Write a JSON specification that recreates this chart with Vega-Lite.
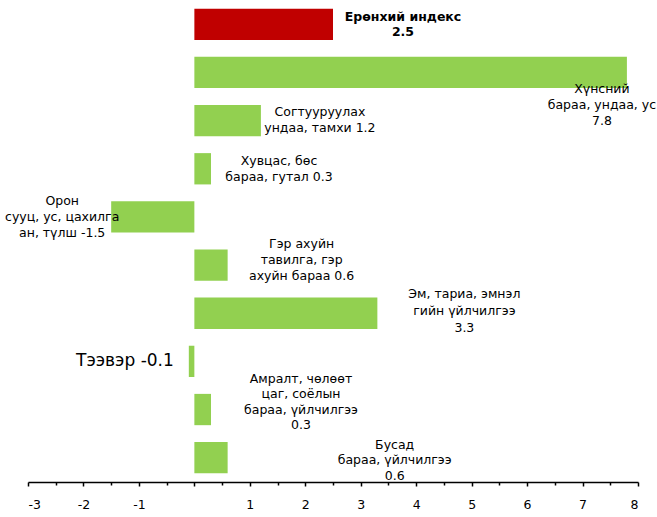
{
  "$schema": "https://vega.github.io/schema/vega-lite/v6.json",
  "width": 610,
  "height": 482,
  "autosize": {"type": "none"},
  "padding": {"left": 28, "top": 0, "right": 19, "bottom": 35},
  "background": "white",
  "config": {"view": {"stroke": null}, "font": "DejaVu Sans"},
  "data": {
    "values": [
      {"category": "Ерөнхий индекс", "value": 2.5, "type": "index", "label": "Ерөнхий индекс\n2.5"},
      {"category": "Хүнсний бараа, ундаа, ус", "value": 7.8, "type": "group", "label": "Хүнсний\nбараа, ундаа, ус\n7.8"},
      {"category": "Согтууруулах ундаа, тамхи", "value": 1.2, "type": "group", "label": "Согтууруулах\nундаа, тамхи 1.2"},
      {"category": "Хувцас, бөс бараа, гутал", "value": 0.3, "type": "group", "label": "Хувцас, бөс\nбараа, гутал 0.3"},
      {"category": "Орон сууц, ус, цахилгаан, түлш", "value": -1.5, "type": "group", "label": "Орон\nсууц, ус, цахилга\nан, түлш -1.5"},
      {"category": "Гэр ахуйн тавилга, гэр ахуйн бараа", "value": 0.6, "type": "group", "label": "Гэр ахуйн\nтавилга, гэр\nахуйн бараа 0.6"},
      {"category": "Эм, тариа, эмнэлгийн үйлчилгээ", "value": 3.3, "type": "group", "label": "Эм, тариа, эмнэл\nгийн үйлчилгээ\n3.3"},
      {"category": "Тээвэр", "value": -0.1, "type": "group", "label": "Тээвэр -0.1"},
      {"category": "Амралт, чөлөөт цаг, соёлын бараа, үйлчилгээ", "value": 0.3, "type": "group", "label": "Амралт, чөлөөт\nцаг, соёлын\nбараа, үйлчилгээ\n0.3"},
      {"category": "Бусад бараа, үйлчилгээ", "value": 0.6, "type": "group", "label": "Бусад\nбараа, үйлчилгээ\n0.6"}
    ]
  },
  "encoding": {
    "y": {"field": "category", "type": "nominal", "sort": null, "axis": null,
          "scale": {"paddingInner": 0.35, "paddingOuter": 0.18}},
    "x": {"field": "value", "type": "quantitative",
          "scale": {"domain": [-3, 8], "nice": false, "zero": false},
          "axis": {
            "title": null, "grid": false,
            "values": [-3,-2.5,-2,-1.5,-1,-0.5,0,0.5,1,1.5,2,2.5,3,3.5,4,4.5,5,5.5,6,6.5,7,7.5,8],
            "labelExpr": "(datum.value % 1 != 0 || datum.value == 0) ? '' : toString(datum.value)",
            "domainColor": "black", "domainWidth": 1.5,
            "tickColor": "black", "tickWidth": 1.5,
            "tickSize": {"expr": "datum.value % 1 == 0 ? 4 : 3"},
            "labelFontSize": 12.5, "labelColor": "black", "labelPadding": 12,
            "labelFont": "DejaVu Sans"
          }}
  },
  "layer": [
    {
      "mark": {"type": "bar"},
      "encoding": {
        "x2": {"datum": 0},
        "color": {"field": "type", "type": "nominal", "legend": null,
                  "scale": {"domain": ["index", "group"], "range": ["#C00000", "#92D050"]}}
      }
    },
    {
      "transform": [{"filter": "datum.category == 'Ерөнхий индекс'"}],
      "mark": {"type": "text", "align": "center", "baseline": "middle", "lineBreak": "\n", "font": "DejaVu Sans", "fontSize": 12.5, "fontWeight": "bold", "lineHeight": 14.5, "dx": 70, "dy": -7, "color": "black"},
      "encoding": {"text": {"field": "label"}}
    },
    {
      "transform": [{"filter": "datum.category == 'Хүнсний бараа, ундаа, ус'"}],
      "mark": {"type": "text", "align": "center", "baseline": "middle", "lineBreak": "\n", "font": "DejaVu Sans", "fontSize": 12.5, "lineHeight": 16, "dx": -25, "dy": 17, "color": "black"},
      "encoding": {"text": {"field": "label"}}
    },
    {
      "transform": [{"filter": "datum.category == 'Согтууруулах ундаа, тамхи'"}],
      "mark": {"type": "text", "align": "center", "baseline": "middle", "lineBreak": "\n", "font": "DejaVu Sans", "fontSize": 12.5, "lineHeight": 16, "dx": 59, "dy": -9, "color": "black"},
      "encoding": {"text": {"field": "label"}}
    },
    {
      "transform": [{"filter": "datum.category == 'Хувцас, бөс бараа, гутал'"}],
      "mark": {"type": "text", "align": "center", "baseline": "middle", "lineBreak": "\n", "font": "DejaVu Sans", "fontSize": 12.5, "lineHeight": 16, "dx": 68, "dy": -7.5, "color": "black"},
      "encoding": {"text": {"field": "label"}}
    },
    {
      "transform": [{"filter": "datum.category == 'Орон сууц, ус, цахилгаан, түлш'"}],
      "mark": {"type": "text", "align": "center", "baseline": "middle", "lineBreak": "\n", "font": "DejaVu Sans", "fontSize": 12.5, "lineHeight": 16, "dx": -49, "dy": -15.5, "color": "black"},
      "encoding": {"text": {"field": "label"}}
    },
    {
      "transform": [{"filter": "datum.category == 'Гэр ахуйн тавилга, гэр ахуйн бараа'"}],
      "mark": {"type": "text", "align": "center", "baseline": "middle", "lineBreak": "\n", "font": "DejaVu Sans", "fontSize": 12.5, "lineHeight": 16, "dx": 74, "dy": -21.5, "color": "black"},
      "encoding": {"text": {"field": "label"}}
    },
    {
      "transform": [{"filter": "datum.category == 'Эм, тариа, эмнэлгийн үйлчилгээ'"}],
      "mark": {"type": "text", "align": "center", "baseline": "middle", "lineBreak": "\n", "font": "DejaVu Sans", "fontSize": 12.5, "lineHeight": 17, "dx": 87, "dy": -19.5, "color": "black"},
      "encoding": {"text": {"field": "label"}}
    },
    {
      "transform": [{"filter": "datum.category == 'Тээвэр'"}],
      "mark": {"type": "text", "align": "right", "baseline": "middle", "font": "DejaVu Sans", "fontSize": 17, "dx": -15, "dy": 0, "color": "black"},
      "encoding": {"text": {"field": "label"}}
    },
    {
      "transform": [{"filter": "datum.category == 'Амралт, чөлөөт цаг, соёлын бараа, үйлчилгээ'"}],
      "mark": {"type": "text", "align": "center", "baseline": "middle", "lineBreak": "\n", "font": "DejaVu Sans", "fontSize": 12.5, "lineHeight": 15.5, "dx": 90, "dy": -31, "color": "black"},
      "encoding": {"text": {"field": "label"}}
    },
    {
      "transform": [{"filter": "datum.category == 'Бусад бараа, үйлчилгээ'"}],
      "mark": {"type": "text", "align": "center", "baseline": "middle", "lineBreak": "\n", "font": "DejaVu Sans", "fontSize": 12.5, "lineHeight": 15.5, "dx": 167, "dy": -13, "color": "black"},
      "encoding": {"text": {"field": "label"}}
    }
  ]
}
